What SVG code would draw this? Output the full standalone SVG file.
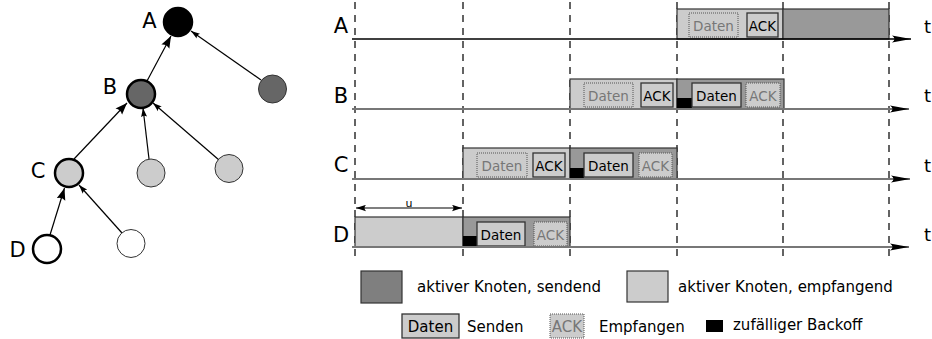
<svg xmlns="http://www.w3.org/2000/svg" width="932" height="339" viewBox="0 0 932 339">
  <style>
    text { font-family: "DejaVu Sans", "Liberation Sans", sans-serif; }
    .lbl { font-size: 21px; fill: #000; }
    .sm { font-size: 13.5px; }
    .leg { font-size: 15px; fill: #000; }
    .mid { text-anchor: middle; }
    .thick { stroke: #000; stroke-width: 2.5; }
    .thin { stroke: #333; stroke-width: 1; }
    .edge { stroke: #000; stroke-width: 1.2; fill: none; }
    .grid { stroke: #222; stroke-width: 1.4; stroke-dasharray: 7 6; fill: none; }
    .axis { stroke: #777; stroke-width: 2; fill: none; }
    .rx { fill: #ccc; stroke: #333; stroke-width: 1.2; }
    .tx { fill: #999; stroke: #333; stroke-width: 1.2; }
    .send { fill: #ccc; stroke: #333; stroke-width: 1.3; }
    .recv { fill: #ccc; stroke: #555; stroke-width: 1; stroke-dasharray: 1 1; }
    .send-t { fill: #000; }
    .recv-t { fill: #777; }
    .backoff { fill: #000; }
  </style>
  <defs>
    <marker id="tip-big" markerUnits="userSpaceOnUse" viewBox="0 0 13 10" markerWidth="13" markerHeight="10" refX="12" refY="5" orient="auto">
      <path d="M12,5 L0,0.5 Q3,5 0,9.5 Z" fill="#000"/>
    </marker>
    <marker id="tip-small" markerUnits="userSpaceOnUse" viewBox="0 0 10 7" markerWidth="10" markerHeight="7" refX="9" refY="3.5" orient="auto">
      <path d="M9,3.5 L0,0.5 Q2.5,3.5 0,6.5 Z" fill="#000"/>
    </marker>
    <marker id="time-tip" markerUnits="userSpaceOnUse" viewBox="0 0 20 8" markerWidth="20" markerHeight="8" refX="19" refY="4" orient="auto">
      <path d="M19,4 L0,0.5 Q5,4 0,7.5 Z" fill="#000"/>
    </marker>
    <marker id="span-tip" markerUnits="userSpaceOnUse" viewBox="0 0 11 7" markerWidth="11" markerHeight="7" refX="10" refY="3.5" orient="auto-start-reverse">
      <path d="M10,3.5 L0,0.3 Q3,3.5 0,6.7 Z" fill="#000"/>
    </marker>
  </defs>

  <!-- tree: connectors -->
  <g id="tree-edges">
    <line class="edge" x1="147" y1="81" x2="171" y2="36" marker-end="url(#tip-big)"/>
    <line class="edge" x1="261" y1="80" x2="191" y2="31" marker-end="url(#tip-small)"/>
    <line class="edge" x1="74" y1="159" x2="127" y2="103" marker-end="url(#tip-big)"/>
    <line class="edge" x1="149" y1="159" x2="143" y2="108" marker-end="url(#tip-small)"/>
    <line class="edge" x1="219" y1="160" x2="153" y2="103" marker-end="url(#tip-small)"/>
    <line class="edge" x1="50" y1="235" x2="64.5" y2="188" marker-end="url(#tip-big)"/>
    <line class="edge" x1="122" y1="233" x2="79" y2="185" marker-end="url(#tip-small)"/>
  </g>

  <!-- tree: nodes -->
  <g id="node-A">
    <circle cx="178" cy="22" r="14" fill="#000" class="thick"/>
    <text class="lbl mid" x="149.5" y="28">A</text>
  </g>
  <g id="node-B">
    <circle cx="141" cy="94" r="14" fill="#666" class="thick"/>
    <text class="lbl mid" x="110" y="94">B</text>
  </g>
  <g id="node-B-sibling">
    <circle cx="272.5" cy="89" r="14" fill="#666" class="thin"/>
  </g>
  <g id="node-C">
    <circle cx="69" cy="173" r="14" fill="#ccc" class="thick"/>
    <text class="lbl mid" x="38" y="178">C</text>
  </g>
  <g id="node-C-sibling-1">
    <circle cx="151" cy="173" r="14" fill="#ccc" class="thin"/>
  </g>
  <g id="node-C-sibling-2">
    <circle cx="229" cy="168.5" r="14" fill="#ccc" class="thin"/>
  </g>
  <g id="node-D">
    <circle cx="47" cy="249" r="14" fill="#fff" class="thick"/>
    <text class="lbl mid" x="17.5" y="257">D</text>
  </g>
  <g id="node-D-sibling">
    <circle cx="131" cy="243.5" r="14" fill="#fff" class="thin"/>
  </g>

  <!-- timeline: slot boundaries -->
  <g id="slot-lines">
    <line class="grid" x1="355" y1="2" x2="355" y2="258"/>
    <line class="grid" x1="463" y1="2" x2="463" y2="258"/>
    <line class="grid" x1="570" y1="2" x2="570" y2="258"/>
    <line class="grid" x1="677" y1="2" x2="677" y2="258"/>
    <line class="grid" x1="783" y1="2" x2="783" y2="258"/>
    <line class="grid" x1="889" y1="2" x2="889" y2="258"/>
  </g>

  <!-- row A -->
  <g id="row-A">
    <rect class="rx" x="677" y="9" width="106" height="30"/>
    <rect class="tx" x="783" y="9" width="106" height="30"/>
    <rect class="recv" x="689" y="13" width="49" height="24"/>
    <text class="sm mid recv-t" x="713.5" y="30.5">Daten</text>
    <rect class="send" x="747" y="13" width="31" height="24"/>
    <text class="sm mid send-t" x="762.5" y="30.5">ACK</text>
  </g>

  <!-- row B -->
  <g id="row-B">
    <rect class="rx" x="570" y="79" width="107" height="30"/>
    <rect class="tx" x="677" y="79" width="107" height="30"/>
    <rect class="recv" x="584" y="83" width="49" height="24"/>
    <text class="sm mid recv-t" x="608.5" y="100.5">Daten</text>
    <rect class="send" x="641" y="83" width="32" height="24"/>
    <text class="sm mid send-t" x="657" y="100.5">ACK</text>
    <rect class="backoff" x="677" y="98" width="15" height="11"/>
    <rect class="send" x="692" y="83" width="49" height="24"/>
    <text class="sm mid send-t" x="716.5" y="100.5">Daten</text>
    <rect class="recv" x="746" y="83" width="34" height="24"/>
    <text class="sm mid recv-t" x="763" y="100.5">ACK</text>
  </g>

  <!-- row C -->
  <g id="row-C">
    <rect class="rx" x="463" y="148" width="107" height="31"/>
    <rect class="tx" x="570" y="148" width="107" height="31"/>
    <rect class="recv" x="477" y="153" width="50" height="24"/>
    <text class="sm mid recv-t" x="502" y="170.5">Daten</text>
    <rect class="send" x="533" y="153" width="32" height="24"/>
    <text class="sm mid send-t" x="549" y="170.5">ACK</text>
    <rect class="backoff" x="570" y="168" width="14" height="11"/>
    <rect class="send" x="584" y="153" width="49" height="24"/>
    <text class="sm mid send-t" x="608.5" y="170.5">Daten</text>
    <rect class="recv" x="639" y="153" width="33" height="24"/>
    <text class="sm mid recv-t" x="655.5" y="170.5">ACK</text>
  </g>

  <!-- row D -->
  <g id="row-D">
    <rect class="rx" x="355" y="217" width="108" height="30"/>
    <rect class="tx" x="463" y="217" width="107" height="30"/>
    <rect class="backoff" x="463" y="236" width="14" height="11"/>
    <rect class="send" x="477" y="222" width="48" height="24"/>
    <text class="sm mid send-t" x="501" y="239.5">Daten</text>
    <rect class="recv" x="534" y="222" width="33" height="24"/>
    <text class="sm mid recv-t" x="550.5" y="239.5">ACK</text>
    <line class="edge" x1="356" y1="208" x2="462" y2="208" marker-start="url(#span-tip)" marker-end="url(#span-tip)"/>
    <text x="409" y="207" font-size="11" fill="#000" class="mid">u</text>
  </g>

  <!-- time axes -->
  <g id="time-axes">
    <line class="axis" x1="352" y1="39" x2="911" y2="39" style="stroke:#000;stroke-width:1.6" marker-end="url(#time-tip)"/>
    <line class="axis" x1="352" y1="109" x2="909" y2="109" marker-end="url(#time-tip)"/>
    <line class="axis" x1="352" y1="179" x2="910" y2="179" marker-end="url(#time-tip)"/>
    <line class="axis" x1="352" y1="247" x2="909" y2="247" marker-end="url(#time-tip)"/>
    <text class="lbl mid" x="341" y="33">A</text>
    <text class="lbl mid" x="341" y="103">B</text>
    <text class="lbl mid" x="341" y="172">C</text>
    <text class="lbl mid" x="341" y="242">D</text>
    <text x="924" y="33" font-size="18">t</text>
    <text x="924" y="102" font-size="18">t</text>
    <text x="924" y="172" font-size="18">t</text>
    <text x="924" y="241" font-size="18">t</text>
  </g>

  <!-- legend -->
  <g id="legend">
    <rect x="361" y="271" width="41" height="32" fill="#7f7f7f" stroke="#333" stroke-width="1.2"/>
    <text class="leg" x="417" y="292">aktiver Knoten, sendend</text>
    <rect x="627" y="271" width="41" height="31" fill="#ccc" stroke="#333" stroke-width="1.2"/>
    <text class="leg" x="678" y="292">aktiver Knoten, empfangend</text>
    <rect class="send" x="402" y="314" width="57" height="24"/>
    <text class="leg mid" x="430.5" y="331.5">Daten</text>
    <text class="leg" x="467" y="332">Senden</text>
    <rect class="recv" x="550" y="314" width="34" height="24"/>
    <text class="leg mid recv-t" x="567" y="331.5">ACK</text>
    <text class="leg" x="599" y="332">Empfangen</text>
    <rect class="backoff" x="706" y="320" width="17" height="12"/>
    <text class="leg" x="733" y="330">zufälliger Backoff</text>
  </g>
</svg>
